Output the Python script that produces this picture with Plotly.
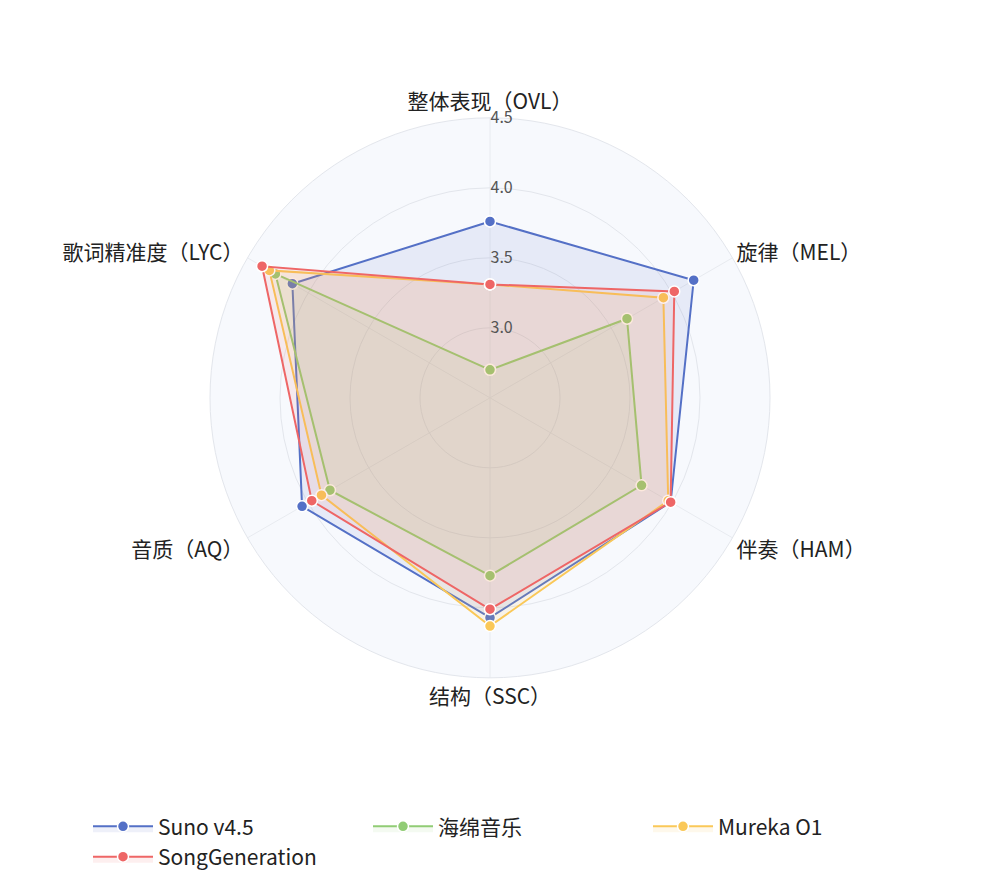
import plotly.graph_objects as go

axes = ["整体表现（OVL）", "旋律（MEL）", "伴奏（HAM）", "结构（SSC）", "音质（AQ）", "歌词精准度（LYC）"]
series_names = ["Suno v4.5", "海绵音乐", "Mureka O1", "SongGeneration"]
suno = [3.76, 4.18, 3.99, 4.07, 4.05, 4.13]
haimian = [2.70, 3.63, 3.75, 3.77, 3.82, 4.27]
mureka = [3.31, 3.93, 3.97, 4.13, 3.89, 4.32]
songgen = [3.31, 4.02, 3.99, 4.01, 3.97, 4.38]
values = [suno, haimian, mureka, songgen]
colors = ["#5470c6", "#91cc75", "#fac858", "#ee6666"]
fills = ["rgba(84,112,198,0.10)", "rgba(145,204,117,0.10)", "rgba(250,200,88,0.12)", "rgba(238,102,102,0.10)"]
ticks = [3.0, 3.5, 4.0, 4.5]

fig = go.Figure()
for name, vals, c, f in zip(series_names, values, colors, fills):
    fig.add_trace(go.Scatterpolar(
        r=vals + vals[:1], theta=axes + axes[:1], name=name,
        mode="lines+markers", fill="toself", fillcolor=f,
        line=dict(color=c, width=2),
        marker=dict(size=11, color=c, line=dict(color="white", width=1.5)),
    ))

fig.update_layout(
    width=1000, height=878,
    margin=dict(l=0, r=0, t=0, b=0),
    paper_bgcolor="white",
    font=dict(family="Noto Sans CJK SC, Roboto", size=20, color="#222"),
    polar=dict(
        domain=dict(x=[0.202, 0.762], y=[0.237, 0.875]),
        bgcolor="#f7f9fd",
        angularaxis=dict(direction="clockwise", rotation=90,
                         linecolor="#e3e6ec", gridcolor="#e8ebf0",
                         tickfont=dict(size=21, color="#222"), ticks=""),
        radialaxis=dict(range=[2.5, 4.5], tickvals=ticks,
                        ticktext=[f"{t:.1f}" for t in ticks],
                        angle=90, tickangle=90, showline=False,
                        gridcolor="#e3e6ec", ticks="",
                        tickfont=dict(size=16, color="#555")),
    ),
    legend=dict(orientation="h", x=0.5, xanchor="center", y=0.01, yanchor="bottom",
                font=dict(size=21), entrywidthmode="pixels", entrywidth=205,
                itemwidth=60),
)

fig.write_html("out.html")
